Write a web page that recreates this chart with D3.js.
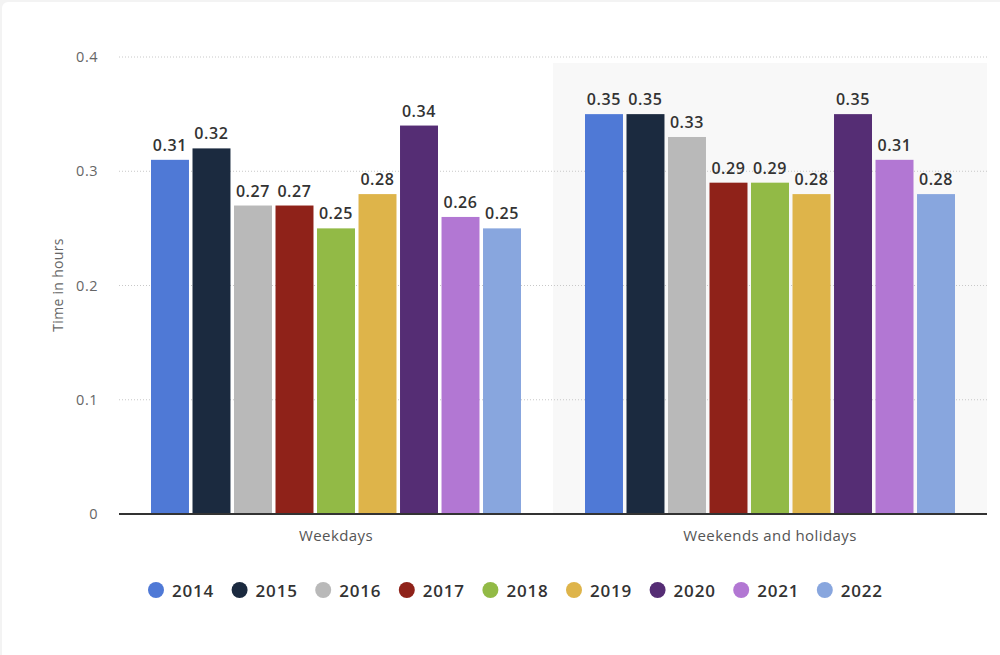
<!DOCTYPE html>
<html><head><meta charset="utf-8">
<script src="https://cdn.jsdelivr.net/npm/d3@7/dist/d3.min.js"></script>
<style>
html,body{margin:0;padding:0;background:#f3f3f3;}
svg{display:block;font-family:"Open Sans",sans-serif;}
</style></head>
<body>
<svg id="chart" width="1000" height="655"></svg>
<script>
const categories = ["Weekdays", "Weekends and holidays"];
const years = ["2014","2015","2016","2017","2018","2019","2020","2021","2022"];
const weekdays = [0.31,0.32,0.27,0.27,0.25,0.28,0.34,0.26,0.25];
const weekends = [0.35,0.35,0.33,0.29,0.29,0.28,0.35,0.31,0.28];
const colors = ["#4f79d6","#1b2a3f","#b9b9b9","#8f2219","#92ba46","#deb44a","#552d74","#b277d3","#88a6de"];
const yTicks = [0,0.1,0.2,0.3,0.4];
const yLabel = "Time in hours";

const seriesByCat = [weekdays, weekends];
const svg = d3.select("#chart");
svg.append("rect").attr("x",2).attr("y",2).attr("width",1010).attr("height",660).attr("rx",6).attr("fill","#fff");

const L = 119, R = 987, T = 57, B = 514;
const x0 = d3.scaleBand().domain(categories).range([L,R]).paddingInner(0).paddingOuter(0);
const x1 = d3.scaleBand().domain(years).range([32, x0.bandwidth()-32]).paddingInner(0.085).paddingOuter(0);
const y = d3.scaleLinear().domain([0,0.4]).range([B,T]);

// hover shading on second group
svg.append("rect").attr("x",x0(categories[1])).attr("y",63)
  .attr("width",x0.bandwidth()).attr("height",B-63).attr("fill","#f8f8f8");

// gridlines
svg.append("g").selectAll("line").data(yTicks.filter(d=>d>0)).join("line")
  .attr("x1",L).attr("x2",R).attr("y1",d=>y(d)).attr("y2",d=>y(d))
  .attr("stroke","#c8c8c8").attr("stroke-width",1).attr("stroke-dasharray","1,2");

// y axis labels
const yAxis = d3.axisLeft(y).tickValues(yTicks).tickFormat(d=>d===0?"0":d3.format(".1f")(d)).tickSize(0).tickPadding(0);
const ya = svg.append("g").attr("transform",`translate(98,0)`).call(yAxis);
ya.select(".domain").remove();
ya.selectAll("text").attr("fill","#666").style("font-size","14.5px").style("letter-spacing","0.5px").style("font-family","'Open Sans',sans-serif");

svg.append("text").attr("transform","translate(63,285) rotate(-90)")
  .attr("text-anchor","middle").attr("fill","#666").style("font-size","14px").style("letter-spacing","0.3px").text(yLabel);

// bars
const groups = svg.append("g").selectAll("g").data(categories).join("g")
  .attr("transform",d=>`translate(${x0(d)},0)`);
groups.each(function(cat,ci){
  const g = d3.select(this);
  const data = years.map((yr,i)=>({yr, v:seriesByCat[ci][i], c:colors[i]}));
  g.selectAll("rect").data(data).join("rect")
    .attr("x",d=>x1(d.yr)).attr("width",x1.bandwidth())
    .attr("y",d=>y(d.v)).attr("height",d=>B-y(d.v)).attr("fill",d=>d.c);
  g.selectAll("text").data(data).join("text")
    .attr("x",d=>x1(d.yr)+x1.bandwidth()/2).attr("y",d=>y(d.v)-9)
    .attr("text-anchor","middle").attr("fill","#333").style("font-size","16px").style("font-weight","600").style("letter-spacing","0.6px")
    .text(d=>d3.format(".2f")(d.v));
});

// baseline
svg.append("line").attr("x1",L).attr("x2",R).attr("y1",B).attr("y2",B).attr("stroke","#333").attr("stroke-width",2);

// x axis labels
const xAxis = d3.axisBottom(x0).tickSize(0).tickPadding(0);
const xa = svg.append("g").attr("transform",`translate(0,${B+27})`).call(xAxis);
xa.select(".domain").remove();
xa.selectAll("text").attr("fill","#555").style("font-size","15px").style("letter-spacing","0.4px").style("font-family","'Open Sans',sans-serif").attr("dy","0");

// legend
const legend = svg.append("g").selectAll("g").data(years).join("g")
  .attr("transform",(d,i)=>`translate(${156 + i*83.6},590)`);
legend.append("circle").attr("r",8).attr("fill",(d,i)=>colors[i]);
legend.append("text").attr("x",16).attr("y",6.5).attr("fill","#333")
  .style("font-size","17px").style("font-weight","600").style("letter-spacing","0.8px").text(d=>d);
</script>
</body></html>
